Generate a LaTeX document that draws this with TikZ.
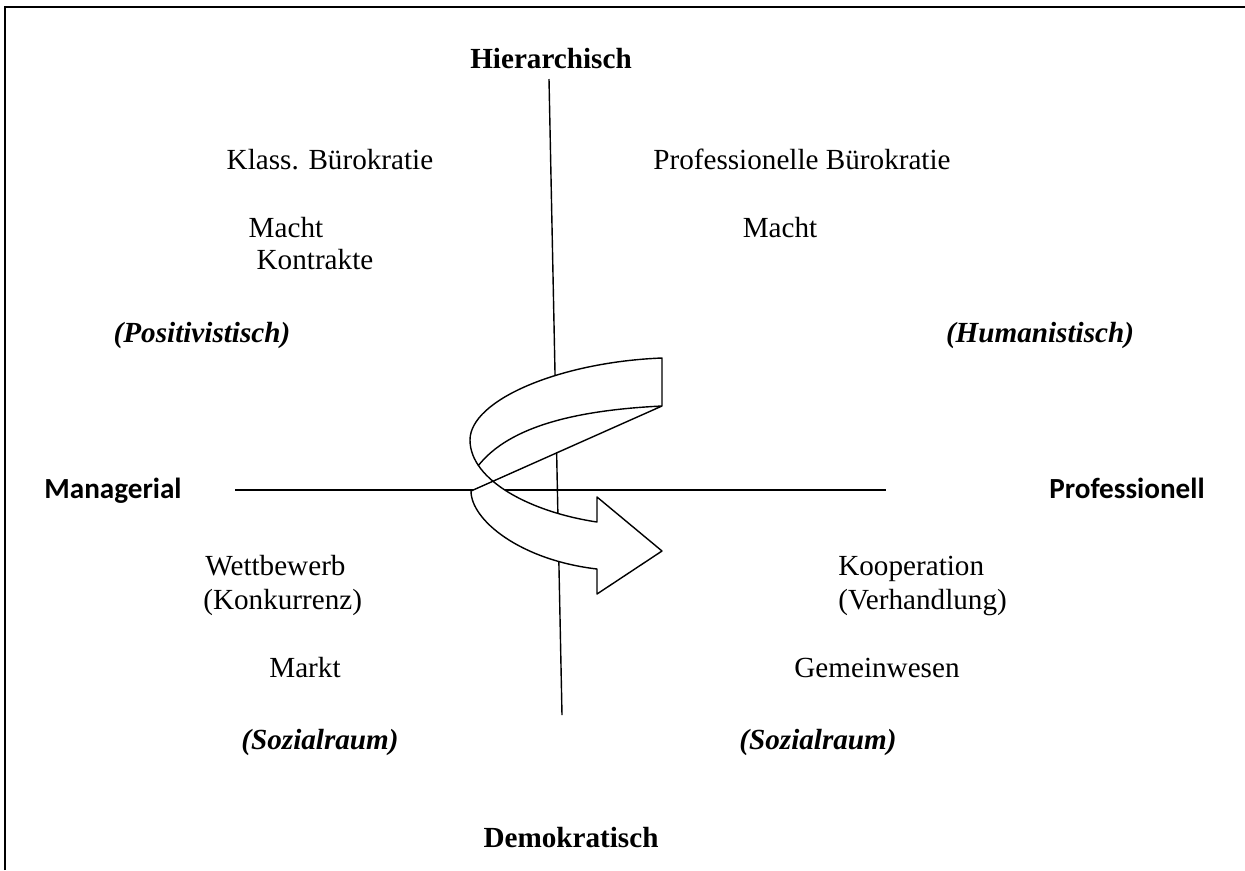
\documentclass[tikz,border=0pt]{standalone}
\usepackage{fontspec}
\setmainfont{Liberation Serif}
\newfontfamily\calibrifont{Carlito}

\begin{document}
\begin{tikzpicture}[x=0.02cm,y=-0.02cm,
        font=\fontsize{16.6}{20}\selectfont,
        every node/.style={inner sep=0pt,anchor=base},
        pole/.style={font=\fontsize{16.6}{20}\selectfont\bfseries},
        sidepole/.style={font=\fontsize{16.6}{20}\selectfont\calibrifont\bfseries},
        paradigm/.style={font=\fontsize{16.6}{20}\selectfont\bfseries\itshape},
        axis/.style={line width=0.8pt},
        ribbon/.style={line width=0.8pt,line join=round}]

    \useasboundingbox (0,0) rectangle (1245,870);
    % frame (only top and left edge visible)
    \draw[line width=1.1pt] (5,870) -- (5,7) -- (1245,7);

    % poles
    \node[pole] (hier) at (551,68) {Hierarchisch};
    \node[pole] (demo) at (571,847) {Demokratisch};
    \node[sidepole] (mana) at (113,498) {Managerial};
    \node[sidepole] (prof) at (1127,498) {Professionell};

    % axes
    \coordinate (vtop) at (549,79);
    \coordinate (vbot) at (562,715);
    \coordinate (hleft) at (235,490);
    \coordinate (hright) at (886,490);
    \draw[axis] (vtop) -- (vbot);
    \draw[axis] (hleft) -- (hright);

    % upper left
    \node (klass) at (330,169) {Klass. Bürokratie};
    \node (machtl) at (286,237) {Macht};
    \node (kontr) at (315,269) {Kontrakte};
    \node[paradigm] (posit) at (202,342) {(Positivistisch)};
    % upper right
    \node (profb) at (802,169) {Professionelle Bürokratie};
    \node (machtr) at (780,237) {Macht};
    \node[paradigm] (human) at (1040,342) {(Humanistisch)};
    % lower left
    \node[anchor=base west] (wett) at (205,575) {Wettbewerb};
    \node[anchor=base west] (konk) at (203,609) {(Konkurrenz)};
    \node (markt) at (305,677) {Markt};
    \node[paradigm] (sozl) at (320,749) {(Sozialraum)};
    % lower right
    \node[anchor=base west] (koop) at (838,575) {Kooperation};
    \node[anchor=base west] (verh) at (838,609) {(Verhandlung)};
    \node (gemein) at (877,677) {Gemeinwesen};
    \node[paradigm] (sozr) at (818,749) {(Sozialraum)};

    % twisted arrow
    \coordinate (tailtop) at (662,358);
    \coordinate (tailbot) at (662,406);
    \coordinate (bend) at (470,440);
    \coordinate (cross) at (491.5,480.5);
    \coordinate (innerend) at (478,466);
    \coordinate (lowstart) at (471,491);
    \coordinate (shafttop) at (597,522);
    \coordinate (barbtop) at (597,497);
    \coordinate (tip) at (662,551);
    \coordinate (barbbot) at (597,594);
    \coordinate (shaftbot) at (597,569);

    \fill[white] (tailtop) .. controls (560,362) and (470,400) .. (bend)
        .. controls (470,454.8) and (478.2,468.5) .. (cross) -- (tailbot) -- cycle;
    \fill[white] (lowstart) .. controls (471,520) and (520,560) .. (shaftbot)
        -- (barbbot) -- (tip) -- (barbtop) -- (shafttop)
        .. controls (554.8,515.7) and (515.4,500.6) .. (cross) -- cycle;
    \draw[ribbon] (tailbot) -- (tailtop) .. controls (560,362) and (470,400) .. (bend)
        .. controls (470,480) and (530,512) .. (shafttop) -- (barbtop) -- (tip)
        -- (barbbot) -- (shaftbot) .. controls (520,560) and (471,520) .. (lowstart)
        -- (tailbot) .. controls (580,410) and (510,425) .. (innerend);
\end{tikzpicture}
\end{document}
